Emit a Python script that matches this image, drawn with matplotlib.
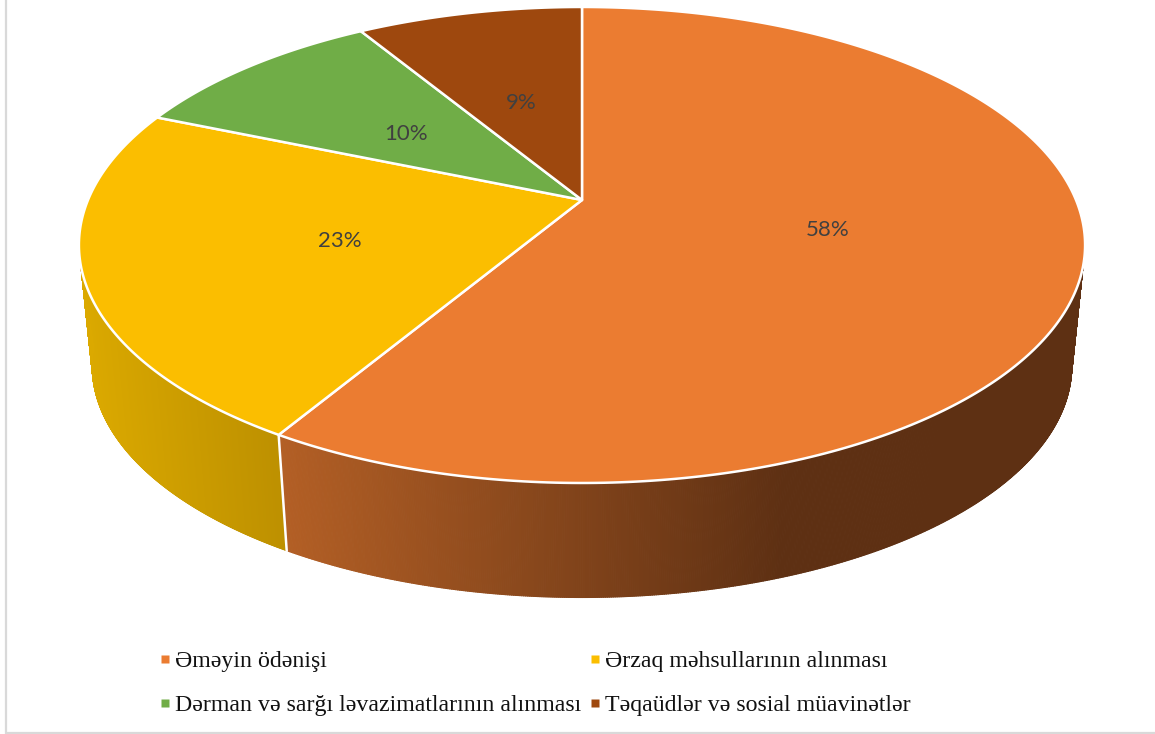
import numpy as np
import matplotlib
matplotlib.use("Agg")
import matplotlib.pyplot as plt
from matplotlib.collections import PolyCollection
from matplotlib.patches import Polygon, Rectangle
from matplotlib.lines import Line2D
from matplotlib.colors import to_rgb

categories = ["Əməyin ödənişi", "Ərzaq məhsullarının alınması",
              "Dərman və sarğı ləvazimatlarının alınması", "Təqaüdlər və sosial müavinətlər"]
shares = [58, 23, 10, 9]
colors = ["#EB7C31", "#FBBE00", "#70AD47", "#9E480E"]

# pie geometry (perspective disc)
CX, CY = 582.0, 200.0
A, B, K = 494.0, 229.5, 0.189
S, DY = 0.9735, 122.0
WARP = np.radians([-1.96, 0.68, -0.65])


def project(theta, r=1.0, bottom=False):
    th = theta + WARP[0] * np.sin(theta) + WARP[1] * np.sin(2 * theta) + WARP[2] * np.sin(3 * theta)
    u, v = r * np.sin(th), r * np.cos(th)
    d = 1 + K * v
    x, y = A * u / d, -B * v / d
    if bottom:
        return CX + S * x, CY + DY + S * y
    return CX + x, CY + y


def mix(c1, c2, t):
    return tuple((1 - t) * a + t * b for a, b in zip(to_rgb(c1), to_rgb(c2)))


def side_color(i, x):
    if i == 0:
        return mix("#B35F25", "#5E3013", np.clip((x - 288) / (780 - 288), 0, 1))
    return mix("#DCAA00", "#BD9000", np.clip((x - 85) / (288 - 85), 0, 1))


fig = plt.figure(figsize=(11.55, 7.34), dpi=100, facecolor="white")
ax = fig.add_axes([0, 0, 1, 1])
ax.set_xlim(0, 1155)
ax.set_ylim(734, 0)
ax.axis("off")

# chart frame
ax.add_patch(Rectangle((5.5, -5), 1160, 737.5, fc="white", ec="#D9D9D9", lw=1.6))

edges = np.radians(np.concatenate([[0], np.cumsum(shares)]) * 3.6)

# side walls: only the first two slices face the viewer; they run from the
# silhouette tangent on each side, so the top arc is clamped there
wall_span = np.radians([100.0, 262.0])
top_span = np.radians([108.0, 252.0])
for i in [1, 0]:
    t = np.linspace(max(edges[i], wall_span[0]), min(edges[i + 1], wall_span[1]), 600)
    tt = np.clip(t, top_span[0], top_span[1])
    xt, yt = project(tt)
    xb, yb = project(t, bottom=True)
    quads, cols = [], []
    for j in range(len(t) - 1):
        quads.append([(xt[j], yt[j]), (xt[j + 1], yt[j + 1]), (xb[j + 1], yb[j + 1]), (xb[j], yb[j])])
        cols.append(side_color(i, xb[j]))
    ax.add_collection(PolyCollection(quads, facecolors=cols, edgecolors=cols, linewidths=0.8, zorder=2))

# seam between the two visible walls
xs0, ys0 = project(edges[1])
xs1, ys1 = project(edges[1], bottom=True)
ax.plot([xs0, xs1], [ys0, ys1], color="white", lw=1.8, zorder=3)

# top surface
for i, c in enumerate(colors):
    t = np.linspace(edges[i], edges[i + 1], 300)
    xt, yt = project(t)
    pts = np.column_stack([np.r_[CX, xt], np.r_[CY, yt]])
    ax.add_patch(Polygon(pts, closed=True, fc=c, ec="white", lw=1.8, joinstyle="round", zorder=4))

# percentage labels
for i, val in enumerate(shares):
    mid = 0.5 * (edges[i] + edges[i + 1])
    x, y = project(mid, r=0.5)
    ax.annotate(f"{val}%", (x, y), xytext=(0, -4.5), textcoords="offset pixels",
                ha="center", va="center", fontsize=16, color="#404040",
                family="Lato", zorder=5)

# legend
handles = [Line2D([], [], ls="", marker="s", ms=5.2, mfc=c, mec="none") for c in colors]
order = [0, 2, 1, 3]
leg = ax.legend([handles[i] for i in order], [categories[i] for i in order], ncol=2,
                loc="lower left", bbox_to_anchor=(160 / 1155, 1 - 716 / 734), frameon=False,
                prop={"family": "Liberation Serif", "size": 17.2},
                handlelength=0.45, handletextpad=0.17, columnspacing=0.37, labelspacing=0.92,
                borderpad=0, borderaxespad=0)
for tx in leg.get_texts():
    tx.set_color("#111111")

fig.savefig("out.png", dpi=100, facecolor="white")
